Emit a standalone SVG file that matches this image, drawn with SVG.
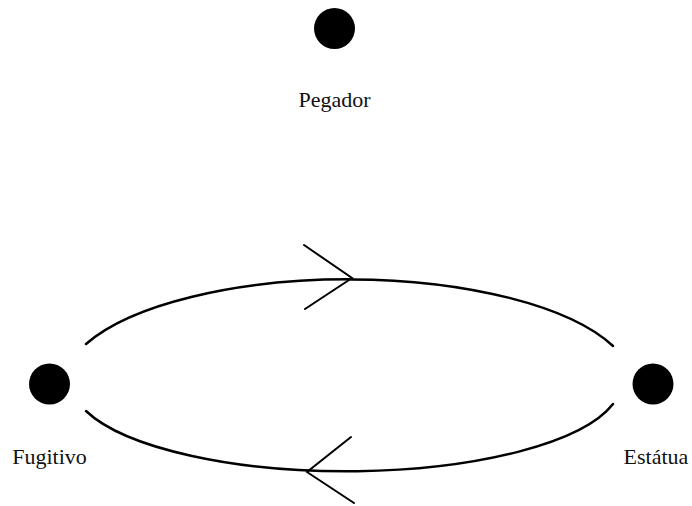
<svg xmlns="http://www.w3.org/2000/svg" width="692" height="506" viewBox="0 0 692 506">
<style>
.dot{fill:#000}
.lbl{font-family:"Liberation Serif","Times New Roman",serif;font-size:22px;fill:#111;text-anchor:middle}
.edge{fill:none;stroke:#000;stroke-width:2.5;stroke-linecap:round}
.head{fill:none;stroke:#000;stroke-width:2;stroke-linecap:round;stroke-linejoin:miter}
</style>
<rect width="692" height="506" fill="#fff"/>
<g id="pegador">
<circle class="dot" cx="334.5" cy="28.5" r="20.5"/>
<text class="lbl" x="334.5" y="107">Pegador</text>
</g>
<g id="fugitivo">
<circle class="dot" cx="49.5" cy="384" r="20.5"/>
<text class="lbl" x="49.5" y="464">Fugitivo</text>
</g>
<g id="estatua">
<circle class="dot" cx="653" cy="384" r="20.5"/>
<text class="lbl" x="656" y="464">Estátua</text>
</g>
<g id="connectors">
<path class="edge" d="M86,344 A285,106 0 0 1 613,346"/>
<path class="head" d="M304,245 L352,278 L305,309"/>
<path class="edge" d="M613,404 A275,89 0 0 1 86,411"/>
<path class="head" d="M351,437 L307,472 L354,503"/>
</g>
</svg>
